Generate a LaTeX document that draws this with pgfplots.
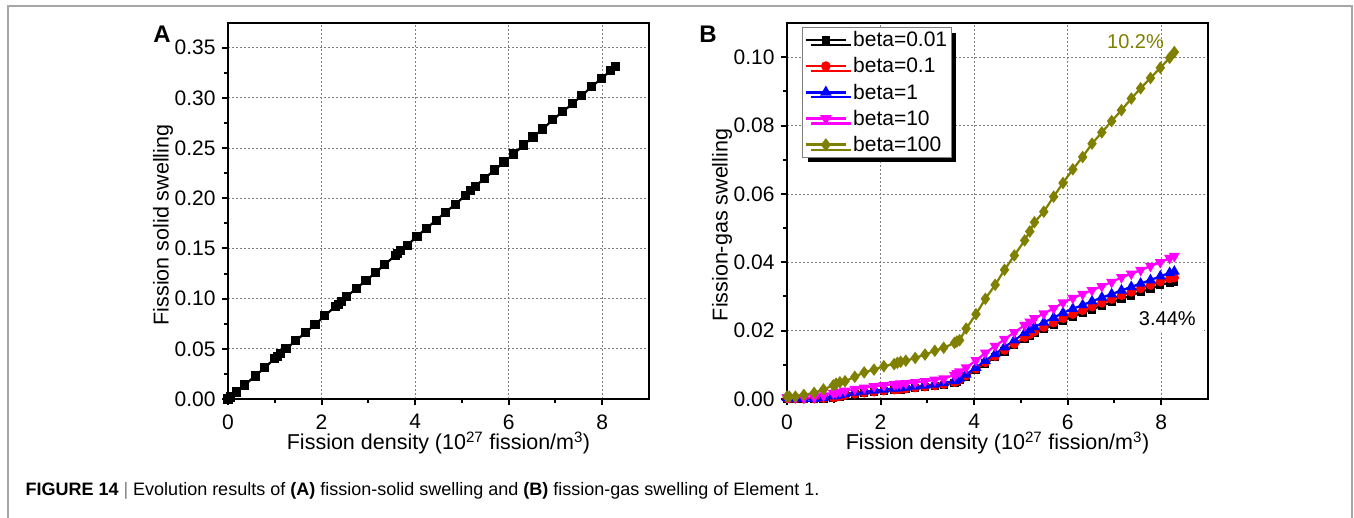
\documentclass[border=0pt]{standalone}
\usepackage{fontspec}
\setmainfont{Liberation Sans}
\usepackage{pgfplots}
\pgfplotsset{compat=1.18}
\usepackage{pgfplotstable}
\usetikzlibrary{shadows}
\definecolor{olivec}{RGB}{128,128,0}
\definecolor{magc}{RGB}{255,0,255}

\pgfplotstableread{
x y
0.00 0.000
0.05 0.002
0.18 0.007
0.36 0.014
0.58 0.023
0.78 0.031
0.99 0.040
1.05 0.042
1.13 0.045
1.24 0.050
1.45 0.058
1.65 0.066
1.86 0.074
2.07 0.083
2.29 0.092
2.36 0.094
2.43 0.097
2.54 0.102
2.74 0.110
2.95 0.118
3.16 0.126
3.35 0.134
3.58 0.143
3.63 0.145
3.69 0.148
3.83 0.153
4.04 0.162
4.24 0.170
4.45 0.178
4.65 0.186
4.86 0.194
5.08 0.203
5.19 0.208
5.29 0.212
5.49 0.220
5.70 0.228
5.90 0.236
6.11 0.244
6.32 0.253
6.52 0.261
6.73 0.269
6.94 0.278
7.15 0.286
7.36 0.294
7.56 0.302
7.77 0.311
7.98 0.319
8.18 0.327
8.28 0.331
}\dataA

\pgfplotstableread{
x b001 b01 b1 b10 b100
0.00 0.0001 0.0002 0.0003 0.0005 0.0007
0.05 0.0001 0.0002 0.0003 0.0005 0.0007
0.18 0.0001 0.0001 0.0002 0.0004 0.0007
0.36 0.0000 0.0001 0.0001 0.0003 0.0012
0.58 0.0000 0.0001 0.0001 0.0005 0.0018
0.78 0.0001 0.0002 0.0003 0.0010 0.0028
0.99 0.0003 0.0004 0.0008 0.0017 0.0040
1.05 0.0005 0.0006 0.0010 0.0019 0.0045
1.13 0.0007 0.0008 0.0012 0.0021 0.0049
1.24 0.0010 0.0011 0.0015 0.0024 0.0052
1.45 0.0014 0.0015 0.0019 0.0029 0.0065
1.65 0.0017 0.0018 0.0022 0.0033 0.0078
1.86 0.0020 0.0021 0.0025 0.0037 0.0086
2.07 0.0023 0.0024 0.0028 0.0040 0.0096
2.29 0.0026 0.0027 0.0031 0.0043 0.0102
2.36 0.0027 0.0028 0.0032 0.0044 0.0106
2.43 0.0028 0.0029 0.0033 0.0045 0.0109
2.54 0.0029 0.0030 0.0034 0.0046 0.0112
2.74 0.0032 0.0033 0.0037 0.0049 0.0120
2.95 0.0035 0.0036 0.0040 0.0052 0.0130
3.16 0.0038 0.0039 0.0043 0.0056 0.0141
3.35 0.0042 0.0043 0.0047 0.0060 0.0150
3.58 0.0048 0.0049 0.0053 0.0070 0.0164
3.63 0.0051 0.0052 0.0056 0.0075 0.0168
3.69 0.0055 0.0056 0.0060 0.0080 0.0172
3.83 0.0066 0.0068 0.0072 0.0092 0.0206
4.04 0.0086 0.0088 0.0092 0.0113 0.0248
4.24 0.0104 0.0107 0.0112 0.0135 0.0293
4.45 0.0122 0.0125 0.0132 0.0155 0.0334
4.65 0.0139 0.0143 0.0152 0.0175 0.0378
4.86 0.0157 0.0161 0.0172 0.0195 0.0420
5.08 0.0175 0.0180 0.0193 0.0216 0.0464
5.19 0.0184 0.0189 0.0202 0.0226 0.0490
5.29 0.0192 0.0197 0.0211 0.0236 0.0517
5.49 0.0204 0.0210 0.0224 0.0250 0.0548
5.70 0.0217 0.0223 0.0238 0.0265 0.0592
5.90 0.0229 0.0236 0.0252 0.0282 0.0632
6.11 0.0241 0.0248 0.0264 0.0295 0.0672
6.32 0.0252 0.0259 0.0275 0.0307 0.0708
6.52 0.0262 0.0270 0.0286 0.0318 0.0747
6.73 0.0273 0.0281 0.0297 0.0330 0.0780
6.94 0.0283 0.0292 0.0307 0.0342 0.0813
7.15 0.0293 0.0303 0.0318 0.0356 0.0845
7.36 0.0303 0.0313 0.0328 0.0366 0.0879
7.56 0.0313 0.0323 0.0338 0.0377 0.0909
7.77 0.0323 0.0333 0.0348 0.0389 0.0939
7.98 0.0333 0.0343 0.0359 0.0400 0.0969
8.18 0.0341 0.0352 0.0369 0.0412 0.0998
8.28 0.0344 0.0355 0.0373 0.0418 0.1015
}\dataB

\pgfplotsset{
  panel/.style={
    scale only axis, width=421pt, height=376pt,
    xmin=0, xmax=9,
    xtick={0,2,4,6,8}, xticklabels={0,2,4,6,8},
    minor xtick={1,3,5,7},
    axis line style={line width=2.4pt},
    tick align=outside, xtick pos=bottom, ytick pos=left,
    major tick length=6pt, minor tick length=4pt,
    tick style={black, line width=2pt},
    grid=major,
    major grid style={gray, line width=0.8pt, dash pattern=on 2pt off 2pt},
    tick label style={font=\fontsize{21}{25}\selectfont},
    xticklabel style={yshift=-6pt},
    yticklabel style={xshift=-3pt},
    label style={font=\fontsize{21.5}{25}\selectfont},
    xlabel={Fission density (10\textsuperscript{27} fission/m\textsuperscript{3})},
    xlabel style={at={(axis description cs:0.5,-0.117)}, anchor=center},
    ylabel style={at={(axis description cs:-0.154,0.463)}, anchor=center, rotate=0},
  }
}

\begin{document}
\begin{tikzpicture}
\useasboundingbox (0,0) rectangle (1354pt,-517pt);
\fill[white] (0,0) rectangle (1354pt,-517pt);
\draw[gray!70, line width=1.2pt] (8pt,-530pt) -- (8pt,-6pt) -- (1352pt,-6pt) -- (1352pt,-530pt);

\begin{axis}[panel,
  at={(228pt,-399pt)}, anchor=south west,
  ymin=0, ymax=0.3745,
  ytick={0,0.05,0.10,0.15,0.20,0.25,0.30,0.35},
  yticklabels={0.00,0.05,0.10,0.15,0.20,0.25,0.30,0.35},
  minor ytick={0.025,0.075,0.125,0.175,0.225,0.275,0.325},
  ylabel={Fission solid swelling},
]
\addplot[black, line width=2.2pt, mark=square*, mark size=3.5pt] table[x=x,y=y] {\dataA};
\end{axis}

\begin{axis}[panel,
  at={(787pt,-399pt)}, anchor=south west,
  ymin=0, ymax=0.11,
  ytick={0,0.02,0.04,0.06,0.08,0.10},
  yticklabels={0.00,0.02,0.04,0.06,0.08,0.10},
  minor ytick={0.01,0.03,0.05,0.07,0.09},
  ylabel={Fission-gas swelling},
  legend cell align=left,
  legend style={at={(0.036,0.989)}, anchor=north west,
    draw=gray, line width=0.8pt, fill=white,
    drop shadow={shadow xshift=5pt, shadow yshift=-5pt, fill=black, opacity=1},
    font=\fontsize{21}{25}\selectfont,
    inner xsep=2pt, inner ysep=2pt, row sep=5.5pt,
    /tikz/every odd column/.append style={column sep=4pt}},
  legend image code/.code={\draw[mark repeat=2, mark phase=2, line width=2.6pt, #1] plot coordinates {(0pt,0pt) (20pt,0pt) (40pt,0pt)};},
]
\addplot[black, line width=2.2pt, mark=square*, mark size=3pt] table[x=x,y=b001] {\dataB};
\addlegendentry{beta=0.01}
\addplot[red, line width=2.2pt, mark=*, mark size=3.5pt] table[x=x,y=b01] {\dataB};
\addlegendentry{beta=0.1}
\addplot[blue, line width=2.2pt, mark=triangle*, mark size=4.2pt] table[x=x,y=b1] {\dataB};
\addlegendentry{beta=1}
\addplot[magc, line width=2.2pt, mark=triangle*, mark size=4.2pt, mark options={rotate=180}] table[x=x,y=b10] {\dataB};
\addlegendentry{beta=10}
\addplot[olivec, line width=2.2pt, mark=diamond*, mark size=4.5pt] table[x=x,y=b100] {\dataB};
\addlegendentry{beta=100}
\node[olivec, font=\fontsize{20}{24}\selectfont] at (axis cs:7.45,0.1047) {10.2\%};
\node[fill=white, inner xsep=8pt, inner ysep=7pt, font=\fontsize{20}{24}\selectfont] at (axis cs:8.13,0.0236) {3.44\%};
\end{axis}

\node[font=\bfseries\fontsize{24}{28}\selectfont] at (162pt,-34pt) {A};
\node[font=\bfseries\fontsize{24}{28}\selectfont] at (708pt,-34pt) {B};
\node[anchor=base west, font=\fontsize{18}{21}\selectfont] at (22pt,-495pt)
  {\textbf{FIGURE 14} {\color{gray}|} Evolution results of \textbf{(A)} fission-solid swelling and \textbf{(B)} fission-gas swelling of Element 1.};
\end{tikzpicture}
\end{document}
